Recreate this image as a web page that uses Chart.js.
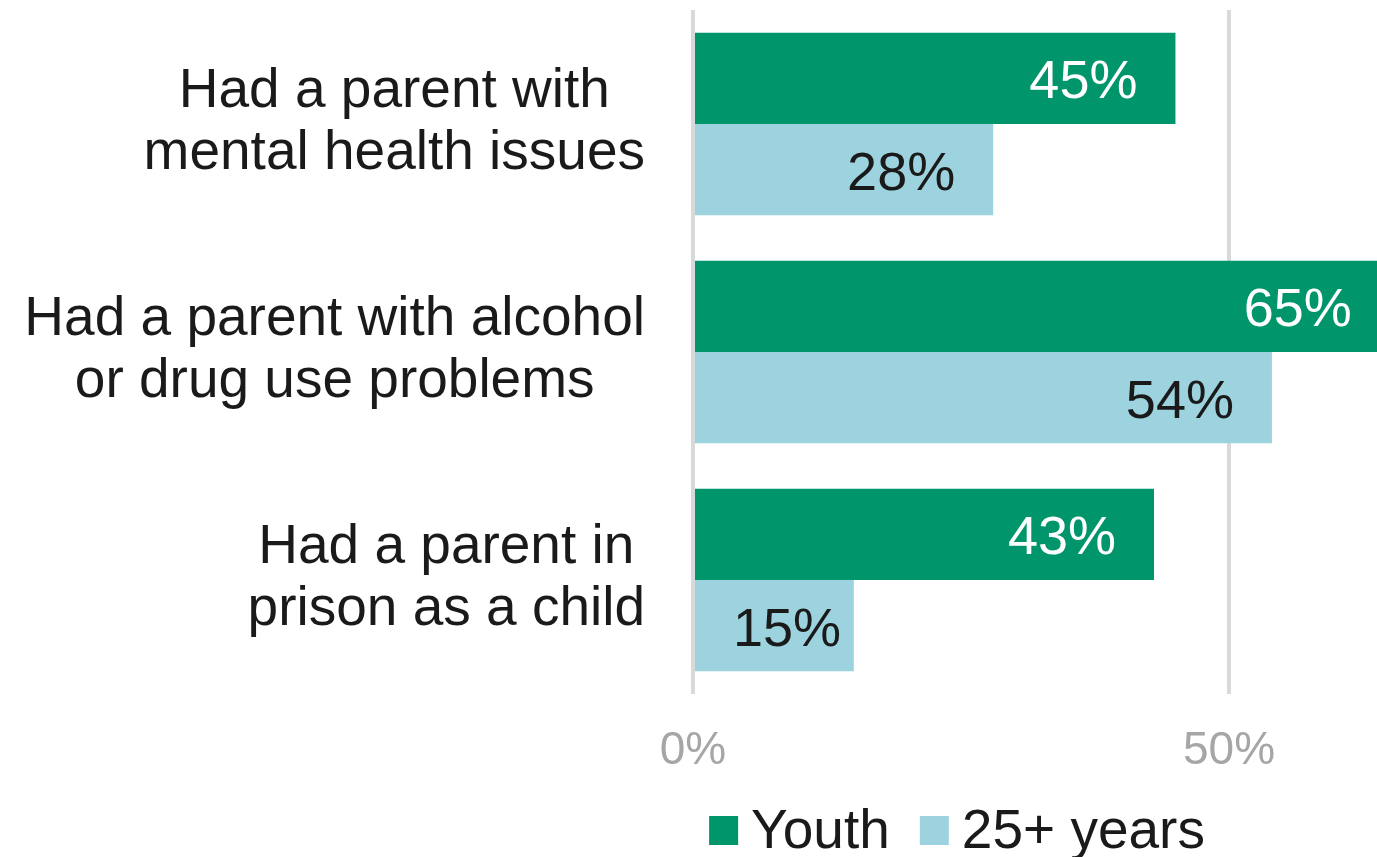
<!DOCTYPE html>
<html lang="en">
<head>
    <meta charset="UTF-8">
    <title>Parental adversity: youth vs 25+ years</title>
    <script src="https://cdn.jsdelivr.net/npm/chart.js"></script>
    <style>
        body {
            margin: 0;
            padding: 0;
            overflow: hidden;
            background: #ffffff;
            font-family: "Liberation Sans", Arial, sans-serif;
        }
        #caja {
            width: 1377px;
            height: 857px;
            position: relative;
        }
    </style>
</head>
<body>
    <div id="caja">
        <canvas id="grafico"></canvas>
    </div>

    <script>
        // categorias (cada una en dos lineas, como en el original)
        const categorias = [
            ["Had a parent with", "mental health issues"],
            ["Had a parent with alcohol", "or drug use problems"],
            ["Had a parent in", "prison as a child"]
        ];
        const seriesNombres = ["Youth", "25+ years"];
        const valoresYouth = [45, 65, 43];
        const valores25 = [28, 54, 15];
        const ticksX = [0, 50];

        const verde = "#00956a";
        const celeste = "#9dd3de";
        const fuente = "'Liberation Sans', Arial, sans-serif";

        // etiquetas de valor al final de cada barra
        const etiquetasBarras = {
            id: "etiquetasBarras",
            afterDatasetsDraw(chart) {
                const ctx = chart.ctx;
                ctx.save();
                ctx.font = "54px " + fuente;
                ctx.textAlign = "right";
                ctx.textBaseline = "alphabetic";
                chart.data.datasets.forEach((ds, i) => {
                    const meta = chart.getDatasetMeta(i);
                    ctx.fillStyle = i === 0 ? "#ffffff" : "#1a1a1a";
                    meta.data.forEach((barra, j) => {
                        const texto = ds.data[j] + "%";
                        const ancho = ctx.measureText(texto).width;
                        // si la barra es corta, el texto no se pega al eje
                        const x = Math.max(barra.x - 38, barra.base + 38 + ancho);
                        ctx.fillText(texto, x, barra.y + 20);
                    });
                });
                ctx.restore();
            }
        };

        // categorias del eje Y: lineas centradas, bloque alineado a la derecha
        const etiquetasY = {
            id: "etiquetasY",
            afterDraw(chart) {
                const ctx = chart.ctx;
                const escalaY = chart.scales.y;
                const derecha = chart.chartArea.left - 48;
                ctx.save();
                ctx.font = "55px " + fuente;
                ctx.fillStyle = "#1a1a1a";
                ctx.textAlign = "center";
                ctx.textBaseline = "alphabetic";
                categorias.forEach((lineas, i) => {
                    const yc = escalaY.getPixelForValue(i);
                    const ancho = Math.max(...lineas.map(l => ctx.measureText(l).width));
                    const xc = derecha - ancho / 2;
                    const alto = 62;
                    lineas.forEach((l, k) => {
                        const y = yc + (k - (lineas.length - 1) / 2) * alto + 14;
                        ctx.fillText(l, xc, y);
                    });
                });
                ctx.restore();
            }
        };

        // leyenda dibujada a mano (cuadro pequeño y texto pegado)
        const leyenda = {
            id: "leyenda",
            afterDraw(chart) {
                const ctx = chart.ctx;
                const colores = [verde, celeste];
                const caja = 29, hueco = 13, separacion = 30;
                ctx.save();
                ctx.font = "55px " + fuente;
                const anchos = seriesNombres.map(n => ctx.measureText(n).width);
                let total = 0;
                anchos.forEach((w, i) => { total += caja + hueco + w + (i < anchos.length - 1 ? separacion : 0); });
                let x = 957 - total / 2;
                const yBase = 848;
                seriesNombres.forEach((n, i) => {
                    ctx.fillStyle = colores[i];
                    ctx.fillRect(x, 816, caja, caja);
                    ctx.fillStyle = "#1a1a1a";
                    ctx.textAlign = "left";
                    ctx.fillText(n, x + caja + hueco, yBase);
                    x += caja + hueco + anchos[i] + separacion;
                });
                ctx.restore();
            }
        };

        const ctx = document.getElementById("grafico").getContext("2d");
        new Chart(ctx, {
            type: "bar",
            data: {
                labels: categorias.map(c => c.join(" ")),
                datasets: [
                    { label: seriesNombres[0], data: valoresYouth, backgroundColor: verde },
                    { label: seriesNombres[1], data: valores25, backgroundColor: celeste }
                ]
            },
            options: {
                indexAxis: "y",
                responsive: true,
                maintainAspectRatio: false,
                animation: false,
                layout: { padding: { left: 693, top: 10, right: 0, bottom: 0 } },
                datasets: {
                    bar: { categoryPercentage: 0.8, barPercentage: 1.0 }
                },
                scales: {
                    x: {
                        min: 0,
                        max: 63.8,
                        afterBuildTicks: eje => { eje.ticks = ticksX.map(v => ({ value: v })); },
                        afterFit: eje => { eje.height = 163; },
                        grid: { color: "#d9d9d9", lineWidth: 4, drawTicks: false },
                        border: { display: false },
                        ticks: {
                            padding: 30,
                            color: "#a6a6a6",
                            font: { family: fuente, size: 46 },
                            callback: v => v + "%"
                        }
                    },
                    y: {
                        display: false
                    }
                },
                plugins: {
                    legend: { display: false },
                    tooltip: { enabled: false }
                }
            },
            plugins: [etiquetasBarras, etiquetasY, leyenda]
        });
    </script>
</body>
</html>
